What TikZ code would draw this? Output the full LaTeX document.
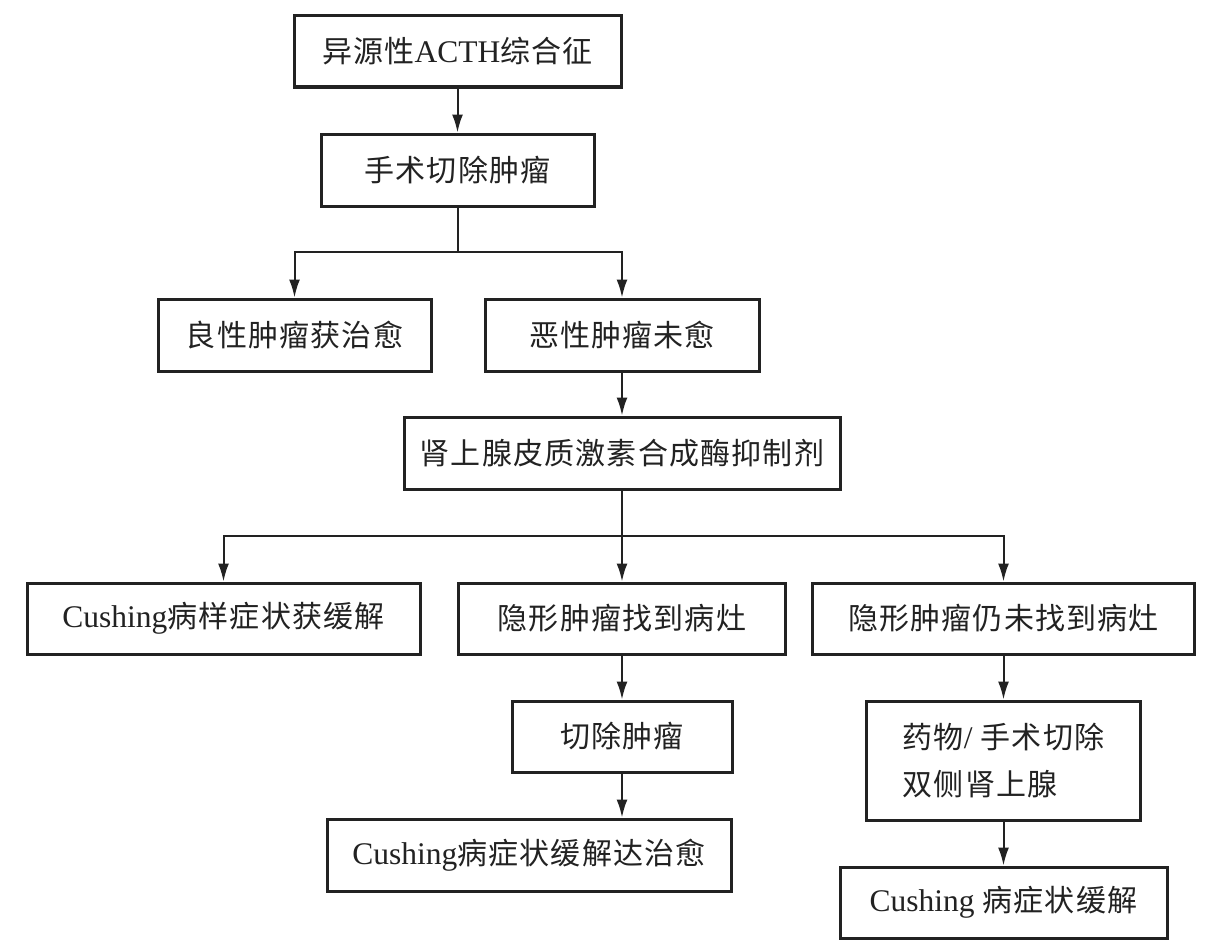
\documentclass[tikz,border=0pt]{standalone}
\usepackage{fontspec}
\setmainfont{Liberation Serif}
\newfontfamily\cjk{Noto Sans CJK SC}[LetterSpace=4]
\newfontfamily\latnfont{Liberation Serif}
\newcommand\latn{\latnfont\fontsize{31.5}{47}\selectfont}
\usetikzlibrary{arrows.meta}
\definecolor{ink}{HTML}{222222}
\tikzset{
  box/.style={draw=ink, line width=3pt, rectangle, inner sep=0pt, align=center,
    font=\cjk\fontsize{30}{47}\selectfont, text=ink},
  conn/.style={draw=ink, line width=2pt},
  arr/.style={conn, -{Latex[length=18pt,width=11pt]}}
}
\begin{document}
\begin{tikzpicture}[x=1pt,y=-1pt]
\useasboundingbox (0,0) rectangle (1221,950);
\fill[white] (0,0) rectangle (1221,950);
\node[box, minimum width=327pt, minimum height=71pt] (n1) at (457.5,51.5) {异源性{\latn ACTH}综合征};
\node[box, minimum width=273pt, minimum height=72pt] (n2) at (457.5,170) {手术切除肿瘤};
\node[box, minimum width=273pt, minimum height=72pt] (n3) at (294.5,335) {良性肿瘤获治愈};
\node[box, minimum width=274pt, minimum height=72pt] (n4) at (622,335) {恶性肿瘤未愈};
\node[box, minimum width=436pt, minimum height=72pt] (n5) at (622,453) {肾上腺皮质激素合成酶抑制剂};
\node[box, minimum width=393pt, minimum height=71pt] (n6) at (223.5,618.5) {{\latn Cushing}病样症状获缓解};
\node[box, minimum width=327pt, minimum height=71pt] (n7) at (622,618.5) {隐形肿瘤找到病灶};
\node[box, minimum width=382pt, minimum height=71pt] (n8) at (1003.5,618.5) {隐形肿瘤仍未找到病灶};
\node[box, minimum width=220pt, minimum height=71pt] (n9) at (622,736.5) {切除肿瘤};
\node[box, minimum width=404pt, minimum height=72pt] (n10) at (529,855) {{\latn Cushing}病症状缓解达治愈};
\node[box, minimum width=274pt, minimum height=119pt, align=left] (n11) at (1003.5,760.5) {药物{\latn /} 手术切除\\双侧肾上腺};
\node[box, minimum width=327pt, minimum height=71pt] (n12) at (1003.5,902.5) {{\latn Cushing} 病症状缓解};
\coordinate (b1) at (457.5,252);
\coordinate (b2) at (622,536);
\draw[arr] (n1) -- (n2);
\draw[conn] (n2) -- (b1);
\draw[arr] (b1) -| (n3.north);
\draw[arr] (b1) -| (n4.north);
\draw[arr] (n4) -- (n5);
\draw[conn] (n5) -- (b2);
\draw[arr] (b2) -| (n6.north);
\draw[arr] (b2) -- (n7.north);
\draw[arr] (b2) -| (n8.north);
\draw[arr] (n7) -- (n9);
\draw[arr] (n9.south) -- (n9.south |- n10.north);
\draw[arr] (n8) -- (n11);
\draw[arr] (n11) -- (n12);
\end{tikzpicture}
\end{document}
